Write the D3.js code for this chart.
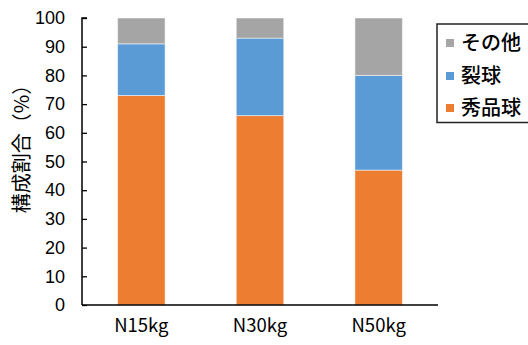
<!DOCTYPE html>
<html>
<head>
<meta charset="utf-8">
<script src="https://cdn.jsdelivr.net/npm/d3@7/dist/d3.min.js"></script>
<style>
  html, body { margin: 0; padding: 0; background: #fff; }
  svg { display: block; }
</style>
</head>
<body>
<script>
// Categories (nitrogen rate) and composition shares (%)
const categories = ["N15kg", "N30kg", "N50kg"];
const seriesNames = ["秀品球", "裂球", "その他"];
const shuhin = [73, 66, 47];   // 秀品球
const retsu  = [18, 27, 33];   // 裂球
const sonota = [9, 7, 20];     // その他
const yTicks = [0, 10, 20, 30, 40, 50, 60, 70, 80, 90, 100];
const colors = ["#ED7D31", "#5B9BD5", "#A5A5A5"];

const W = 528, H = 345;
const margin = { left: 82, right: 90, top: 18, bottom: 40 };

const svg = d3.select("body").append("svg")
  .attr("width", W).attr("height", H);

const x = d3.scaleBand()
  .domain(categories)
  .range([margin.left, 438])
  .paddingInner(0.6)
  .paddingOuter(0.3);

const y = d3.scaleLinear()
  .domain([0, 100])
  .range([H - margin.bottom, margin.top]);

// Stack the three series per category
const rows = categories.map((c, i) => ({
  cat: c, "秀品球": shuhin[i], "裂球": retsu[i], "その他": sonota[i]
}));
const stacked = d3.stack().keys(seriesNames)(rows);

svg.append("g").selectAll("g")
  .data(stacked)
  .join("g")
  .attr("fill", (d, i) => colors[i])
  .selectAll("rect")
  .data(d => d)
  .join("rect")
  .attr("x", d => x(d.data.cat))
  .attr("width", x.bandwidth())
  .attr("y", d => y(d[1]))
  .attr("height", d => y(d[0]) - y(d[1]))
  .attr("stroke", "#fff")
  .attr("stroke-opacity", 0.5)
  .attr("stroke-width", 1);

// Y axis with inward ticks
const yAxis = svg.append("g")
  .attr("transform", `translate(${margin.left},0)`)
  .call(d3.axisRight(y).tickValues(yTicks).tickSize(5).tickFormat(d3.format("d")));
yAxis.select(".domain").attr("stroke", "#000").attr("stroke-width", 1.5)
  .attr("d", `M5,${y(100)}H0V${y(0)}`);
yAxis.selectAll(".tick line").attr("stroke", "#000").attr("stroke-width", 1.3);
yAxis.selectAll(".tick text")
  .attr("x", -17)
  .attr("text-anchor", "end")
  .attr("font-family", "Liberation Sans, Arial, sans-serif")
  .attr("font-size", 18)
  .attr("fill", "#000");

// X axis
const xAxis = svg.append("g")
  .attr("transform", `translate(0,${y(0)})`)
  .call(d3.axisBottom(x).tickSize(0));
xAxis.select(".domain").attr("stroke", "#000").attr("stroke-width", 1.5)
  .attr("d", `M${margin.left},0H438`);
xAxis.selectAll(".tick text")
  .attr("y", 14)
  .attr("dy", "0.71em")
  .attr("font-family", "Noto Sans CJK JP, sans-serif")
  .attr("font-size", 18.5)
  .attr("fill", "#000");

// Y axis title
svg.append("text")
  .attr("transform", `translate(22,144) rotate(-90)`)
  .attr("text-anchor", "middle")
  .attr("dy", "0.35em")
  .attr("font-family", "Noto Sans CJK JP, sans-serif")
  .attr("font-size", 20)
  .attr("fill", "#000")
  .text("構成割合（%）");

// Legend
const legend = svg.append("g");
legend.append("rect")
  .attr("x", 437).attr("y", 24)
  .attr("width", 100).attr("height", 98.5)
  .attr("fill", "#fff").attr("stroke", "#222").attr("stroke-width", 1.5);
const legendItems = [
  { name: "その他", color: colors[2], cy: 43 },
  { name: "裂球", color: colors[1], cy: 76 },
  { name: "秀品球", color: colors[0], cy: 108 }
];
legendItems.forEach(it => {
  legend.append("rect")
    .attr("x", 446).attr("y", it.cy - 4)
    .attr("width", 8).attr("height", 8)
    .attr("fill", it.color);
  legend.append("text")
    .attr("x", 461).attr("y", it.cy)
    .attr("dy", "0.35em")
    .attr("font-family", "Noto Sans CJK JP, sans-serif")
    .attr("font-size", 20)
    .attr("font-weight", 500)
    .attr("fill", "#000")
    .text(it.name);
});
</script>
</body>
</html>
